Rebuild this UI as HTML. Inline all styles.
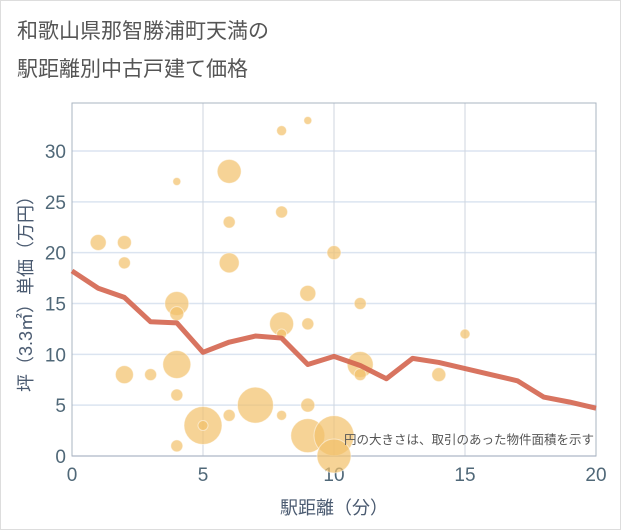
<!DOCTYPE html>
<html><head><meta charset="utf-8"><style>
body{margin:0;background:#fff;}
.wrap{position:relative;width:619px;height:528px;border:1px solid #ddd;overflow:hidden;font-family:"Liberation Sans","Noto Sans CJK JP",sans-serif;}
.title{position:absolute;left:16px;top:12px;font-size:21px;line-height:38px;color:#555;}
</style></head><body>
<div class="wrap">
<div class="title">和歌山県那智勝浦町天満の<br>駅距離別中古戸建て価格</div>
<svg id="chart" width="621" height="530" style="position:absolute;left:-1px;top:-1px"></svg>
</div>
<script>
const xTicks=[0,5,10,15,20];
const yTicks=[0,5,10,15,20,25,30];
const bubbleX=[1,2,2,3,2,4,4,4,4,4,4,5,5,6,6,6,6,7,8,8,8,8,8,9,9,9,9,9,10,10,10,11,11,11,14,15];
const bubbleY=[21,21,19,8,8,27,15,14,9,6,1,3,3,28,23,19,4,5,32,24,13,12,4,33,16,13,5,2,20,2,0,15,9,8,8,12];
const bubbleR=[8,7,6,6,9,4,12,7,14,6,6,19,5,12,6,10,6,18,5,6,12,5,5,4,8,6,7,17,7,20,17,6,13,6,7,5];
const lineX=[0,1,2,3,4,5,6,7,8,9,10,11,12,13,14,15,16,17,18,19,20];
const lineY=[18.2,16.5,15.6,13.2,13.1,10.2,11.2,11.8,11.6,9.0,9.8,8.9,7.6,9.6,9.2,8.6,8.0,7.4,5.8,5.3,4.7];
const L=72,R=596,T=103,B=456;
const sx=v=>L+(R-L)*v/20;
const sy=v=>B-(B-151)*v/30;
const svg=document.getElementById('chart');
const NS='http://www.w3.org/2000/svg';
function mk(t,a){const e=document.createElementNS(NS,t);for(const k in a)e.setAttribute(k,a[k]);svg.appendChild(e);return e;}
yTicks.forEach(v=>{
 const g=mk('line',{x1:L,x2:R,y1:sy(v),y2:sy(v),stroke:'#dbe4f0','stroke-width':1.5});
 
 
 const t=mk('text',{x:L-6,y:sy(v)+7,'text-anchor':'end','font-size':19,fill:'#506878'});
 t.textContent=v;
 
 
});
xTicks.forEach(v=>{
 const g=mk('line',{x1:sx(v),x2:sx(v),y1:T,y2:B,stroke:'#cfd6df','stroke-width':1});
 
 
 const t=mk('text',{x:sx(v),y:B+25,'text-anchor':'middle','font-size':19,fill:'#506878'});
 t.textContent=v;
 
 
});
const frame=mk('rect',{x:L,y:T,width:R-L,height:B-T,fill:'none',stroke:'#aab4c0','stroke-width':1});


bubbleX.forEach((x,i)=>{
 const c=mk('circle',{cx:sx(x),cy:sy(bubbleY[i]),r:bubbleR[i],fill:'#f2c06a','fill-opacity':0.7,stroke:'#fff','stroke-opacity':0.5,'stroke-width':1});
 
 
});
const p=mk('polyline',{points:lineX.map((x,i)=>sx(x)+','+sy(lineY[i])).join(' '),fill:'none',stroke:'#d4654f','stroke-opacity':0.9,'stroke-width':5,'stroke-linejoin':'round'});


const n=mk('text',{x:R-2,y:444,'text-anchor':'end','font-size':12.5,fill:'#555'});
n.textContent='円の大きさは、取引のあった物件面積を示す';


const xt=mk('text',{x:(L+R)/2,y:514,'text-anchor':'middle','font-size':18,fill:'#4a5a70'});
xt.textContent='駅距離（分）';


const yt=mk('text',{x:0,y:0,'text-anchor':'middle','font-size':18,fill:'#4a5a70',transform:'translate(32,'+((T+B)/2+10)+') rotate(-90)'});
yt.textContent='坪（3.3㎡）単価（万円）';


</script>
</body></html>
